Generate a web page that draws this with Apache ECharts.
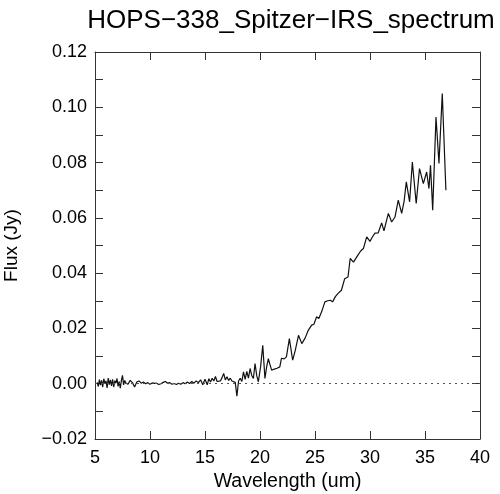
<!DOCTYPE html>
<html>
<head>
<meta charset="utf-8">
<script src="https://cdn.jsdelivr.net/npm/echarts@6/dist/echarts.min.js"></script>
<style>
  html, body { margin: 0; padding: 0; background: #fff; }
  #chart { width: 500px; height: 494px; }
</style>
</head>
<body>
<div id="chart"></div>
<script>
// wavelength (um) and flux (Jy)
const wavelength = [
  5.2, 5.3, 5.4, 5.5, 5.6, 5.7, 5.8, 5.9, 6.0, 6.1, 6.2, 6.3, 6.4, 6.5, 6.6, 6.7, 6.8, 6.9, 7.0, 7.1,
  7.2, 7.3, 7.4, 7.5, 7.6, 7.7, 7.8, 7.9, 8.0,
  8.2, 8.4, 8.6, 8.8, 9.0, 9.2, 9.4, 9.6, 9.8, 10.0, 10.2, 10.4, 10.6, 10.8, 11.0, 11.2, 11.4, 11.6,
  11.8, 12.0, 12.2, 12.4, 12.6, 12.8, 13.0, 13.2, 13.4, 13.6, 13.8, 14.0, 14.2, 14.4, 14.6, 14.8, 15.0,
  15.2, 15.35, 15.5, 15.65, 15.8, 15.95, 16.1, 16.25, 16.4, 16.55, 16.7, 16.85, 17.0, 17.15, 17.3,
  17.45, 17.6, 17.75, 17.9, 18.05, 18.2, 18.35, 18.5, 18.65, 18.8, 18.95, 19.1, 19.25, 19.4, 19.55,
  19.7, 19.85, 20.05, 20.25, 20.45, 20.6, 20.76, 20.9, 21.06, 21.3, 21.55, 21.8, 21.95, 22.2, 22.4,
  22.67, 22.97, 23.2, 23.5, 23.8, 24.1, 24.4, 24.55, 24.7, 24.9, 25.15, 25.35, 25.6, 25.9, 26.15,
  26.4, 26.6, 26.85, 27.1, 27.4, 27.7, 28.0, 28.2, 28.5, 28.9, 29.15, 29.4, 29.7, 30.0, 30.2, 30.45,
  30.75, 31.06, 31.27, 31.5, 31.67, 31.97, 32.27, 32.57, 32.88, 33.1, 33.3, 33.6, 33.85, 34.2, 34.5,
  34.85, 35.15, 35.36, 35.5, 35.7, 36.0, 36.27, 36.57, 36.9
];
const flux = [
  0.0005, -0.0010, 0.0015, -0.0005, 0.0012, -0.0012, 0.0018, 0.0000, 0.0010, -0.0015, 0.0020, -0.0003,
  0.0014, -0.0008, 0.0016, -0.0012, 0.0011, 0.0002, 0.0019, -0.0010, 0.0008, -0.0016, 0.0012, 0.0030,
  -0.0004, 0.0012, 0.0003, 0.0010, -0.0002,
  0.0012, 0.0004, -0.0012, 0.0006, 0.0010, 0.0002, 0.0006, 0.0000, 0.0004, -0.0002, 0.0003, 0.0001,
  0.0002, -0.0003, 0.0000, 0.0005, 0.0008, 0.0002, 0.0004, -0.0002, 0.0001, -0.0003, 0.0002, -0.0002,
  0.0004, 0.0000, 0.0006, 0.0001, 0.0008, 0.0002, 0.0010, 0.0004, 0.0014, -0.0004, 0.0016,
  -0.0004, 0.0018, 0.0006, 0.0020, 0.0010, 0.0026, 0.0008, 0.0015, 0.0010, 0.0022, 0.0037, 0.0014,
  0.0025, 0.0012, 0.0020, 0.0010, 0.0016, 0.0005, -0.0045, 0.0010, 0.0020, 0.0008, 0.0043, 0.0016,
  0.0045, 0.0020, 0.0055, 0.0030, 0.0019, 0.0073, 0.0030, 0.0007, 0.0060, 0.0139, 0.0019, 0.0060,
  0.0091, 0.0070, 0.0049, 0.0053, 0.0056, 0.0061, 0.0092, 0.0090, 0.0097, 0.0163, 0.0085, 0.0120,
  0.0175, 0.0145, 0.0165, 0.0194, 0.0188, 0.0212, 0.0215, 0.0242, 0.0236, 0.0260, 0.0296, 0.0300,
  0.0302, 0.0296, 0.0315, 0.0327, 0.0338, 0.0380, 0.0386, 0.0453, 0.0440, 0.0465, 0.0480, 0.0489,
  0.0531, 0.0515, 0.0530, 0.0545, 0.0546, 0.0582, 0.0553, 0.0590, 0.0616, 0.0585, 0.0603, 0.0664,
  0.0616, 0.0660, 0.0730, 0.0658, 0.0802, 0.0652, 0.0778, 0.0724, 0.0766, 0.0706, 0.0790, 0.0628,
  0.0965, 0.0797, 0.1050, 0.0700
];
const xTicks = [5, 10, 15, 20, 25, 30, 35, 40];

const FONT = "Liberation Sans";
const AXIS = "#333";

const fmtY = (v) => {
  const k = Math.round(v * 100);
  if (k % 2 !== 0) return "";
  const s = Math.abs(v).toFixed(2);
  return k < 0 ? "\u2212" + s : s;
};

const chart = echarts.init(document.getElementById("chart"), null, { renderer: "canvas" });

const baseAxis = {
  axisLine: { show: true, onZero: false, lineStyle: { color: AXIS, width: 1 } },
  axisTick: { show: true, inside: true, length: 8, lineStyle: { color: AXIS } },
  splitLine: { show: false }
};

chart.setOption({
  animation: false,
  title: {
    text: "HOPS\u2212338_Spitzer\u2212IRS_spectrum",
    left: 286, top: 3, textAlign: "center",
    textStyle: { fontFamily: FONT, fontSize: 26, fontWeight: "normal", color: "#000" }
  },
  grid: { left: 95, right: 20, top: 52, bottom: 55, containLabel: false, outerBoundsMode: "none" },
  xAxis: [
    Object.assign({}, baseAxis, {
      type: "value", min: xTicks[0], max: xTicks[xTicks.length - 1], interval: 5,
      position: "bottom",
      name: "Wavelength (um)", nameLocation: "middle", nameGap: 33,
      nameTextStyle: { fontFamily: FONT, fontSize: 19.5, color: "#000" },
      axisLabel: { fontFamily: FONT, fontSize: 18, color: "#000", margin: 10 }
    }),
    Object.assign({}, baseAxis, {
      type: "value", min: 5, max: 40, interval: 5, position: "top",
      axisLabel: { show: false }
    })
  ],
  yAxis: [
    Object.assign({}, baseAxis, {
      type: "value", min: -0.02, max: 0.12, interval: 0.01,
      position: "left",
      name: "Flux (Jy)", nameLocation: "middle", nameGap: 74, nameRotate: 90,
      nameTextStyle: { fontFamily: FONT, fontSize: 19, color: "#000" },
      axisLabel: { fontFamily: FONT, fontSize: 18, color: "#000", margin: 8, formatter: fmtY }
    }),
    Object.assign({}, baseAxis, {
      type: "value", min: -0.02, max: 0.12, interval: 0.01, position: "right",
      axisLabel: { show: false }
    })
  ],
  series: [{
    type: "line",
    data: wavelength.map((w, i) => [w, flux[i]]),
    showSymbol: false,
    lineStyle: { color: "#111", width: 1.2 },
    markLine: {
      silent: true, symbol: "none", label: { show: false },
      lineStyle: { color: "#555", type: [2, 4], width: 1 },
      data: [[{ coord: [5, 0] }, { coord: [40, 0] }]]
    },
    z: 3
  }]
});
</script>
</body>
</html>
